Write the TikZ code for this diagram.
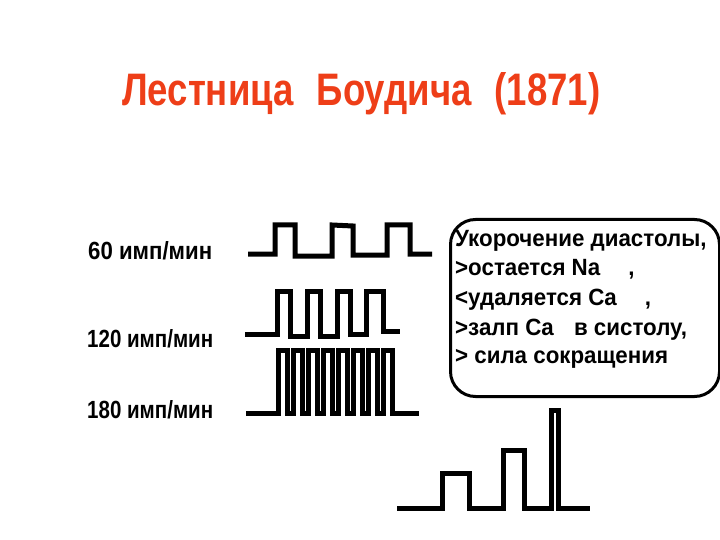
\documentclass[tikz,border=0pt]{standalone}
\usepackage{fontspec}
\setmainfont{Liberation Sans}
\newfontfamily\boxfont[FakeStretch=0.95]{Liberation Sans}
\newfontfamily\lblfont[FakeStretch=0.85]{Liberation Sans}
\definecolor{titlered}{RGB}{238,62,24}
\tikzset{
  wave/.style={line width=5pt, line join=miter, black},
  txt/.style={anchor=base west, inner sep=0pt},
  boxtxt/.style={txt, font=\boxfont\bfseries\fontsize{23.5}{23.5}\selectfont},
  infobox/.style={draw, line width=3pt, rounded corners=25pt, anchor=north west, inner sep=0pt, minimum width=269pt, minimum height=177pt}
}
\begin{document}
\begin{tikzpicture}[x=1pt,y=-1pt]
\useasboundingbox (0,0) rectangle (720,540);
\fill[white] (0,0) rectangle (720,540);
% title
\node[txt, text=titlered] (title) at (122,106) {\resizebox{478pt}{33pt}{\bfseries Лестница\hspace{0.35em} Боудича\hspace{0.35em} (1871)}};
% labels
\node[txt] (l60) at (88,260) {\resizebox{124pt}{18pt}{\lblfont\bfseries 60 имп/мин}};
\node[txt] (l120) at (87,347) {\resizebox{126pt}{18pt}{\lblfont\bfseries 120 имп/мин}};
\node[txt] (l180) at (87,418) {\resizebox{126pt}{18pt}{\lblfont\bfseries 180 имп/мин}};
% waveform 60
\draw[wave] (248,254) -- (275,254) -- (275,225) -- (295,225) -- (295,256) -- (332,256) -- (332,225) -- (353,226) -- (353,255) -- (387,255) -- (387,225) -- (410,225) -- (410,254) -- (432,254);
% waveform 120
\draw[wave] (245,334) -- (277,334) -- (277,291) -- (290,291) -- (290,336) -- (307,336) -- (307,291) -- (320,291) -- (320,336) -- (337,336) -- (337,291) -- (350,291) -- (350,334) -- (366,334) -- (366,291) -- (383,291) -- (383,331) -- (400,331);
% waveform 180
\draw[wave] (246,413) -- (278,413) -- (278,350) -- (287,350) -- (287,413)
  -- (293,413) -- (293,350) -- (302,350) -- (302,413)
  -- (308,413) -- (308,350) -- (317,350) -- (317,413)
  -- (323,413) -- (323,350) -- (332,350) -- (332,413)
  -- (338,413) -- (338,350) -- (347,350) -- (347,413)
  -- (353,413) -- (353,350) -- (362,350) -- (362,413)
  -- (368,413) -- (368,350) -- (377,350) -- (377,413)
  -- (383,413) -- (383,350) -- (392,350) -- (392,413) -- (419,413);
% bottom staircase
\draw[wave] (397,508) -- (442,508) -- (442,473) -- (469,473) -- (469,508) -- (503,508) -- (503,450) -- (524,450) -- (524,508) -- (551,508) -- (551,410) -- (558,410) -- (558,508) -- (590,508);
% info box
\node[infobox] (box) at (449,218) {};
\node[boxtxt] (t1) at (455,247) {Укорочение диастолы,};
\node[boxtxt] (t2) at (455,275) {>остается Na\hspace{22pt} ,};
\node[boxtxt] (t3) at (455,305) {<удаляется Ca\hspace{22pt} ,};
\node[boxtxt] (t4) at (455,335) {>залп Ca\hspace{14pt} в систолу,};
\node[boxtxt] (t5) at (455,363) {> сила сокращения};
\end{tikzpicture}
\end{document}
